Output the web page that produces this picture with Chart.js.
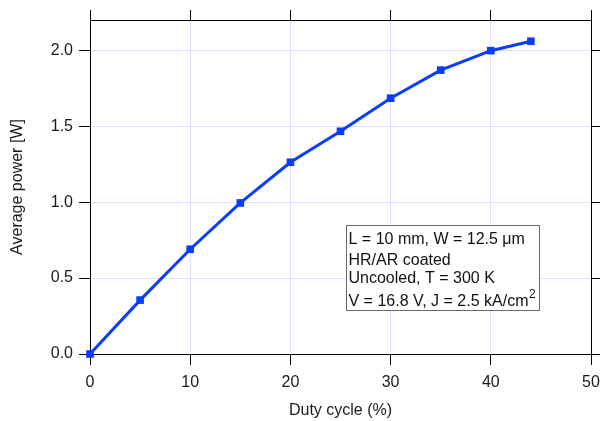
<!DOCTYPE html>
<html>
<head>
<meta charset="utf-8">
<script src="https://cdn.jsdelivr.net/npm/chart.js@4/dist/chart.umd.min.js"></script>
<style>
  html, body { margin: 0; padding: 0; background: #fff; }
  #wrap { width: 601px; height: 421px; }
</style>
</head>
<body>
<div id="wrap"><canvas id="chart"></canvas></div>
<script>
// measured output vs. pulse duty cycle
const dutyCycle = [0, 5, 10, 15, 20, 25, 30, 35, 40, 44];
const avgPower = [0, 0.355, 0.69, 0.995, 1.263, 1.467, 1.685, 1.87, 1.998, 2.06];

const xTicks = [0, 10, 20, 30, 40, 50];
const yTicks = [0, 0.5, 1.0, 1.5, 2.0];

const infoLines = [
  "L = 10 mm, W = 12.5 \u03bcm",
  "HR/AR coated",
  "Uncooled, T = 300 K",
  "V = 16.8 V, J = 2.5 kA/cm",
];

const FONT = "'Liberation Sans', Arial, sans-serif";
const GRID = "rgba(210, 210, 255, 0.7)";

const fixTicks = (vals) => (scale) => {
  scale.ticks = vals.map((v) => ({ value: v }));
};

// fixed axis box sizes, no extra room for overhanging labels
const fixSize = (w, h) => (s) => {
  if (w != null) s.width = w;
  if (h != null) s.height = h;
  s.paddingLeft = s.paddingRight = s.paddingTop = s.paddingBottom = 0;
};

// parameter box, anchored in data coordinates
const infoBox = {
  id: "infoBox",
  afterDatasetsDraw(chart) {
    const { ctx, scales } = chart;
    const x0 = Math.round(scales.x.getPixelForValue(25.55)) + 0.5;
    const x1 = Math.round(scales.x.getPixelForValue(44.86)) + 0.5;
    const y0 = Math.round(scales.y.getPixelForValue(0.852)) + 0.5;
    const y1 = Math.round(scales.y.getPixelForValue(0.293)) + 0.5;
    ctx.save();
    ctx.fillStyle = "#fff";
    ctx.fillRect(x0, y0, x1 - x0, y1 - y0);
    ctx.strokeStyle = "#6a6a6a";
    ctx.lineWidth = 1;
    ctx.strokeRect(x0, y0, x1 - x0, y1 - y0);
    ctx.fillStyle = "#111";
    ctx.font = "16px " + FONT;
    ctx.textBaseline = "alphabetic";
    ctx.textAlign = "left";
    const baseY = [18.5, 39.5, 57, 80];
    infoLines.forEach((t, i) => {
      ctx.fillText(t, x0 + 2, y0 + baseY[i]);
    });
    const w = ctx.measureText(infoLines[3]).width;
    ctx.font = "12px " + FONT;
    ctx.fillText("2", x0 + 2.5 + w, y0 + baseY[3] - 8);
    ctx.restore();
  },
};

new Chart(document.getElementById("chart"), {
  type: "line",
  data: {
    datasets: [{
      data: dutyCycle.map((d, i) => ({ x: d, y: avgPower[i] })),
      borderColor: "#0a3dff",
      backgroundColor: "#0a3dff",
      borderWidth: 3,
      pointStyle: "rect",
      pointRadius: 5.4,
      pointBorderWidth: 0,
      tension: 0,
      clip: false,
    }],
  },
  options: {
    responsive: true,
    maintainAspectRatio: false,
    animation: false,
    layout: { padding: 0 },
    plugins: { legend: { display: false }, tooltip: { enabled: false } },
    scales: {
      x: {
        type: "linear",
        position: "bottom",
        min: 0,
        max: 50,
        afterBuildTicks: fixTicks(xTicks),
        afterFit: fixSize(null, 67),
        grid: { color: GRID, tickColor: "#000", tickLength: 11 },
        border: { color: "#000" },
        ticks: { color: "#1a1a1a", font: { family: FONT, size: 16 }, padding: 8, maxRotation: 0 },
        title: { display: true, text: "Duty cycle (%)", color: "#1a1a1a", font: { family: FONT, size: 16 }, padding: { bottom: 1 } },
      },
      x2: {
        type: "linear",
        position: "top",
        min: 0,
        max: 50,
        afterBuildTicks: fixTicks(xTicks),
        afterFit: fixSize(null, 20),
        grid: { drawOnChartArea: false, tickColor: "#000", tickLength: 10 },
        border: { color: "#000" },
        ticks: { display: false },
      },
      y: {
        type: "linear",
        position: "left",
        min: 0,
        max: 2.2,
        afterBuildTicks: fixTicks(yTicks),
        afterFit: fixSize(90, null),
        grid: { color: GRID, tickColor: "#000", tickLength: 11 },
        border: { color: "#000" },
        ticks: {
          color: "#1a1a1a",
          font: { family: FONT, size: 16 },
          padding: 6,
          callback: (v) => v.toFixed(1),
        },
        title: { display: true, text: "Average power [W]", color: "#1a1a1a", font: { family: FONT, size: 16 }, padding: { top: 8 } },
      },
      y2: {
        type: "linear",
        position: "right",
        min: 0,
        max: 2.2,
        afterBuildTicks: fixTicks(yTicks),
        afterFit: fixSize(10, null),
        grid: { drawOnChartArea: false, tickColor: "#000", tickLength: 9 },
        border: { color: "#000" },
        ticks: { display: false },
      },
    },
  },
  plugins: [infoBox],
});
</script>
</body>
</html>
